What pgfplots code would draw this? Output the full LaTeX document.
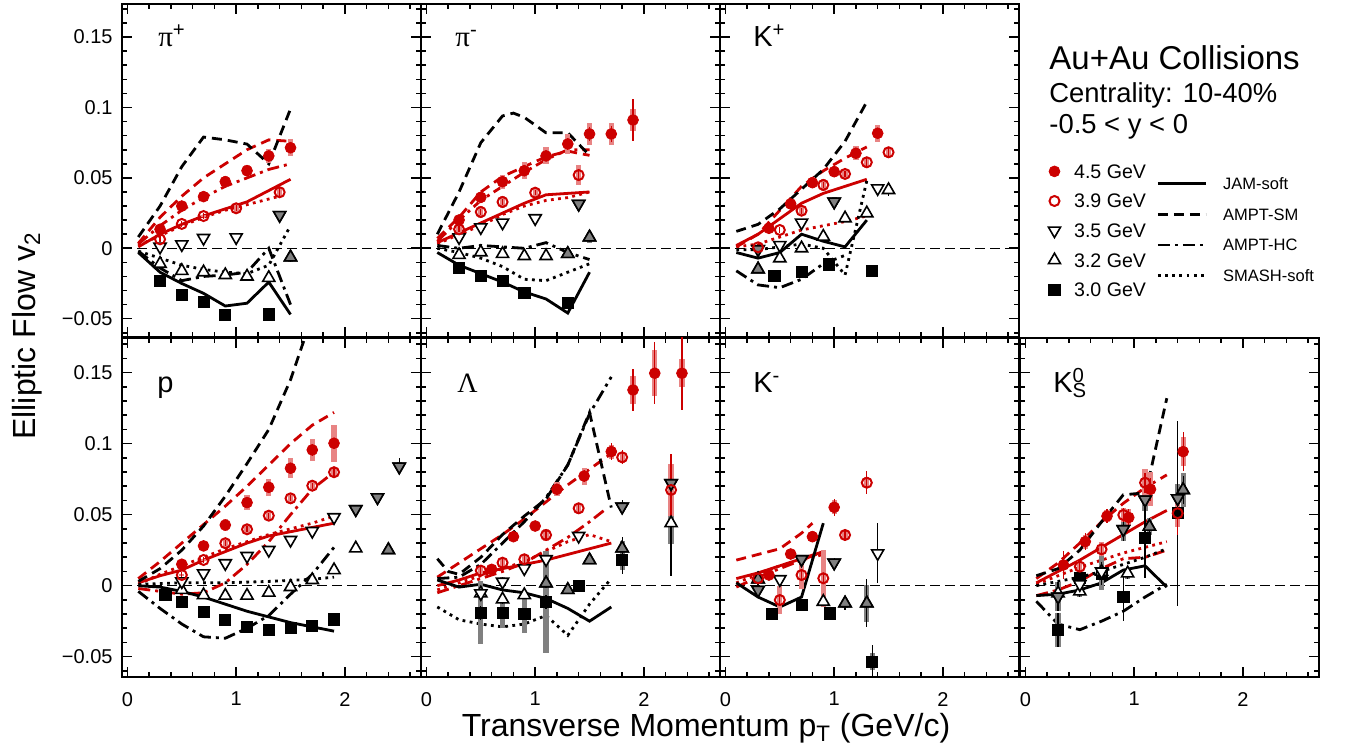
\documentclass[border=0pt]{standalone}
\usepackage{pgfplots}
\usepackage{pgfplotstable}
\pgfplotsset{compat=1.18}
\usepackage{fontspec}
\setmainfont{Liberation Sans}
\newfontfamily\grk{Liberation Serif}

\definecolor{rd}{RGB}{204,0,0}
\definecolor{rdsys}{RGB}{232,132,132}
\definecolor{gysys}{RGB}{128,128,128}

% marker styles (tikz keys, so legends can use them too)
\tikzset{
  m45/.style={color=rd, mark=*, mark size=2.7pt, mark options={fill=rd, draw=rd, line width=0.4pt, solid}},
  m39/.style={color=rd, mark=o, mark size=2.5pt, mark options={draw=rd, line width=1pt, solid}},
  m35/.style={color=black, mark=triangle*, mark size=3.5pt, mark options={rotate=180, draw=black, fill=white, line width=0.8pt, solid}},
  m35g/.style={color=black, mark=triangle*, mark size=3.5pt, mark options={rotate=180, draw=black, fill=gysys, line width=0.8pt, solid}},
  m32/.style={color=black, mark=triangle*, mark size=3.5pt, mark options={draw=black, fill=white, line width=0.8pt, solid}},
  m32g/.style={color=black, mark=triangle*, mark size=3.5pt, mark options={draw=black, fill=gysys, line width=0.8pt, solid}},
  m30/.style={color=black, mark=square*, mark size=2.8pt, mark options={fill=black, draw=black, solid}},
  mjam/.style={line width=1.4pt, solid},
  msm/.style={line width=1.4pt, dash pattern=on 5pt off 3pt},
  mhc/.style={line width=1.4pt, dash pattern=on 6pt off 2.5pt on 1.5pt off 2.5pt},
  msma/.style={line width=1.4pt, dash pattern=on 1.4pt off 2.2pt},
  zline/.style={black, line width=0.6pt, dash pattern=on 5pt off 2.5pt},
}

\pgfplotsset{
  panel/.style={scale only axis, width=149.5pt, xmin=-0.05, xmax=2.7, anchor=south west,
    axis line style={line width=1pt}, tick align=inside, xtick pos=both, ytick pos=both,
    xtick={0,1,2}, ytick={-0.05,0,0.05,0.1,0.15},
    minor xtick={0.2,0.4,0.6,0.8,1.2,1.4,1.6,1.8,2.2,2.4,2.6},
    minor ytick={-0.06,-0.04,-0.03,-0.02,-0.01,0.01,0.02,0.03,0.04,0.06,0.07,0.08,0.09,0.11,0.12,0.13,0.14,0.16,0.17},
    major tick length=5pt, minor tick length=2.5pt,
    tick style={line width=0.8pt, black},
    xticklabels={}, yticklabels={},
    ticklabel style={font=\fontsize{10}{10}\selectfont},
    xticklabel style={yshift=-4pt}, yticklabel style={xshift=-1.2pt}},
  toprow/.style={height=166.5pt, ymin=-0.063, ymax=0.1735},
  botrow/.style={height=169.5pt, ymin=-0.0643, ymax=0.1744},
  ylab/.style={yticklabels={−0.05,0,0.05,0.1,0.15}},
  xlab/.style={xticklabels={0,1,2}},
}

% one data series: systematic boxes, then points with statistical bars
\newcommand{\ser}[3]{%
  \addplot[draw=none, mark=none, forget plot, error bars/.cd, y dir=both, y explicit, error mark=none,
    error bar style={draw=#3, line width=2.6pt, solid}] table[x=x, y=y, y error=sy] {#1};
  \addplot[#2, only marks, forget plot, error bars/.cd, y dir=both, y explicit, error mark=none,
    error bar style={line width=0.6pt, solid}] table[x=x, y=y, y error=st] {#1};
}
% points flagged g=1 are drawn again with a grey fill
\newcommand{\gry}[2]{%
  \addplot[#2, only marks, forget plot, unbounded coords=discard]
    table[x expr={\thisrow{g}>0.5 ? \thisrow{x} : nan}, y=y] {#1};
}
\newcommand{\lab}[3]{\node[anchor=base west, inner sep=0pt, font=\fontsize{14.5}{15}\selectfont] at (rel axis cs:#1,#2) {#3};}

% ---------------- pi+ ----------------
\pgfplotstableread{
x y st sy g
0.3 0.0135 0.002 0.002 0
0.5 0.0300 0.002 0.002 0
0.7 0.0367 0.002 0.003 0
0.9 0.0473 0.002 0.004 0
1.1 0.0551 0.002 0.004 0
1.3 0.0656 0.003 0.005 0
1.5 0.0714 0.004 0.006 0
}\PiPa
\pgfplotstableread{
x y st sy g
0.3 0.0064 0.002 0.000 0
0.5 0.0173 0.002 0.000 0
0.7 0.0229 0.002 0.001 0
1.0 0.0284 0.002 0.003 0
1.4 0.0398 0.003 0.003 0
}\PiPb
\pgfplotstableread{
x y st sy g
0.3 0.0011 0.002 0.000 0
0.5 0.0028 0.002 0.000 0
0.7 0.0073 0.002 0.000 0
1.0 0.0078 0.002 0.000 0
1.4 0.0236 0.003 0.003 1
}\PiPc
\pgfplotstableread{
x y st sy g
0.3 -0.0110 0.002 0.000 0
0.5 -0.0160 0.002 0.000 0
0.7 -0.0170 0.002 0.000 0
0.9 -0.0190 0.002 0.000 0
1.1 -0.0200 0.002 0.000 0
1.3 -0.0210 0.002 0.000 0
1.5 -0.0064 0.003 0.003 1
}\PiPd
\pgfplotstableread{
x y st sy g
0.3 -0.0230 0.002 0.002 0
0.5 -0.0332 0.002 0.002 0
0.7 -0.0379 0.002 0.002 0
0.9 -0.0474 0.002 0.002 0
1.3 -0.0469 0.002 0.002 0
}\PiPe

% ---------------- pi- ----------------
\pgfplotstableread{
x y st sy g
0.3 0.0201 0.002 0.003 0
0.5 0.0362 0.002 0.004 0
0.7 0.0473 0.002 0.005 0
0.9 0.0551 0.002 0.006 0
1.1 0.0656 0.003 0.006 0
1.3 0.0741 0.004 0.007 0
1.5 0.0812 0.005 0.008 0
1.7 0.0812 0.006 0.008 0
1.9 0.0911 0.015 0.008 0
}\PiMa
\pgfplotstableread{
x y st sy g
0.3 0.0135 0.002 0.003 0
0.5 0.0258 0.002 0.004 0
0.7 0.0329 0.002 0.004 0
1.0 0.0395 0.002 0.003 0
1.4 0.0520 0.003 0.007 0
}\PiMb
\pgfplotstableread{
x y st sy g
0.3 0.0078 0.002 0.000 0
0.5 0.0149 0.002 0.000 0
0.7 0.0182 0.002 0.000 0
1.0 0.0213 0.002 0.000 0
1.4 0.0315 0.003 0.003 1
}\PiMc
\pgfplotstableread{
x y st sy g
0.3 -0.0047 0.002 0.000 0
0.5 -0.0028 0.002 0.000 0
0.7 -0.0040 0.002 0.000 0
0.9 -0.0055 0.002 0.000 0
1.1 -0.0055 0.002 0.000 0
1.3 -0.0040 0.002 0.003 1
1.5 0.0078 0.003 0.004 1
}\PiMd
\pgfplotstableread{
x y st sy g
0.3 -0.0138 0.002 0.002 0
0.5 -0.0197 0.002 0.002 0
0.7 -0.0232 0.002 0.002 0
0.9 -0.0315 0.002 0.002 0
1.3 -0.0386 0.002 0.002 0
}\PiMe

% ---------------- K+ ----------------
\pgfplotstableread{
x y st sy g
0.4 0.0142 0.002 0.002 0
0.6 0.0315 0.002 0.003 0
0.8 0.0466 0.002 0.004 0
1.0 0.0544 0.002 0.004 0
1.2 0.0675 0.003 0.005 0
1.4 0.0817 0.004 0.006 0
}\KPa
\pgfplotstableread{
x y st sy g
0.3 0.0007 0.002 0.000 0
0.5 0.0130 0.002 0.000 0
0.7 0.0267 0.002 0.003 0
0.9 0.0450 0.002 0.004 0
1.1 0.0528 0.002 0.003 0
1.3 0.0611 0.003 0.004 0
1.5 0.0682 0.004 0.004 0
}\KPb
\pgfplotstableread{
x y st sy g
0.3 -0.0007 0.002 0.002 1
0.5 0.0023 0.002 0.000 0
0.7 0.0182 0.002 0.002 0
1.0 0.0331 0.002 0.003 1
1.4 0.0426 0.003 0.000 0
}\KPc
\pgfplotstableread{
x y st sy g
0.3 -0.0149 0.002 0.002 1
0.5 -0.0071 0.002 0.000 0
0.7 0.0000 0.002 0.000 0
0.9 0.0083 0.002 0.000 0
1.1 0.0213 0.002 0.000 0
1.3 0.0249 0.002 0.000 0
1.5 0.0414 0.004 0.000 0
}\KPd
\pgfplotstableread{
x y st sy g
0.45 -0.0197 0.002 0.002 0
0.7 -0.0166 0.002 0.002 0
0.95 -0.0114 0.002 0.002 0
1.35 -0.0159 0.003 0.002 0
}\KPe

% ---------------- p ----------------
\pgfplotstableread{
x y st sy g
0.5 0.0151 0.002 0.002 0
0.7 0.0280 0.002 0.003 0
0.9 0.0427 0.002 0.004 0
1.1 0.0585 0.003 0.005 0
1.3 0.0693 0.003 0.006 0
1.5 0.0827 0.003 0.007 0
1.7 0.0956 0.004 0.008 0
1.9 0.1003 0.004 0.013 0
}\Pra
\pgfplotstableread{
x y st sy g
0.5 0.0075 0.002 0.001 0
0.7 0.0181 0.002 0.001 0
0.9 0.0299 0.002 0.003 0
1.1 0.0397 0.002 0.003 0
1.3 0.0493 0.002 0.003 0
1.5 0.0615 0.002 0.004 0
1.7 0.0704 0.002 0.003 0
1.9 0.0799 0.003 0.003 0
}\Prb
\pgfplotstableread{
x y st sy g
0.5 0.0030 0.002 0.000 0
0.7 0.0087 0.002 0.000 0
0.9 0.0158 0.002 0.003 0
1.1 0.0209 0.002 0.000 0
1.3 0.0251 0.002 0.003 0
1.5 0.0322 0.002 0.003 0
1.7 0.0385 0.002 0.000 0
1.9 0.0482 0.002 0.000 0
2.1 0.0538 0.002 0.002 1
2.3 0.0622 0.003 0.002 1
2.5 0.0838 0.006 0.003 1
}\Prc
\pgfplotstableread{
x y st sy g
0.5 -0.0030 0.002 0.000 0
0.7 -0.0066 0.002 0.000 0
0.9 -0.0070 0.002 0.000 0
1.1 -0.0070 0.002 0.000 0
1.3 -0.0049 0.002 0.000 0
1.5 -0.0009 0.002 0.000 0
1.7 0.0040 0.002 0.000 0
1.9 0.0110 0.002 0.000 0
2.1 0.0263 0.002 0.000 0
2.4 0.0251 0.002 0.002 1
}\Prd
\pgfplotstableread{
x y st sy g
0.35 -0.0066 0.002 0.002 0
0.5 -0.0113 0.002 0.002 0
0.7 -0.0183 0.002 0.002 0
0.9 -0.0242 0.002 0.002 0
1.1 -0.0293 0.002 0.002 0
1.3 -0.0312 0.002 0.002 0
1.5 -0.0300 0.002 0.002 0
1.7 -0.0284 0.002 0.002 0
1.9 -0.0237 0.002 0.002 0
}\Pre

% ---------------- Lambda ----------------
\pgfplotstableread{
x y st sy g
0.6 0.0115 0.004 0.003 0
0.8 0.0345 0.003 0.003 0
1.0 0.0420 0.003 0.003 0
1.2 0.0679 0.004 0.005 0
1.45 0.0772 0.004 0.006 0
1.7 0.0944 0.006 0.005 0
1.9 0.1378 0.015 0.010 0
2.1 0.1496 0.022 0.016 0
2.35 0.1496 0.026 0.010 0
}\Laa
\pgfplotstableread{
x y st sy g
0.5 0.0106 0.004 0.003 0
0.7 0.0162 0.003 0.003 0
0.9 0.0186 0.003 0.003 0
1.1 0.0357 0.003 0.004 0
1.4 0.0545 0.003 0.004 0
1.8 0.0904 0.005 0.004 0
2.25 0.0674 0.025 0.018 0
}\Lab
\pgfplotstableread{
x y st sy g
0.5 -0.0054 0.003 0.003 0
0.7 0.0028 0.003 0.003 0
0.9 0.0122 0.003 0.003 0
1.1 0.0186 0.003 0.003 0
1.4 0.0350 0.003 0.000 0
1.8 0.0556 0.005 0.003 1
2.25 0.0721 0.008 0.004 1
}\Lac
\pgfplotstableread{
x y st sy g
0.5 -0.0054 0.003 0.003 0
0.7 -0.0096 0.003 0.003 0
0.9 -0.0066 0.003 0.003 0
1.1 0.0017 0.003 0.003 1
1.3 -0.0030 0.003 0.003 1
1.5 0.0180 0.003 0.003 1
1.8 0.0263 0.008 0.005 1
2.25 0.0440 0.037 0.015 0
}\Lad
\pgfplotstableread{
x y st sy g
0.5 -0.0190 0.005 0.022 0
0.7 -0.0190 0.004 0.011 0
0.9 -0.0200 0.004 0.013 0
1.1 -0.0113 0.005 0.036 0
1.4 -0.0002 0.003 0.003 0
1.8 0.0180 0.010 0.007 0
}\Lae

% ---------------- K- ----------------
\pgfplotstableread{
x y st sy g
0.4 0.0075 0.002 0.003 0
0.6 0.0223 0.003 0.003 0
0.8 0.0345 0.003 0.004 0
1.0 0.0552 0.006 0.005 0
}\KMa
\pgfplotstableread{
x y st sy g
0.3 0.0052 0.002 0.002 0
0.5 -0.0101 0.003 0.010 0
0.7 0.0075 0.003 0.010 0
0.9 0.0052 0.003 0.020 0
1.1 0.0357 0.004 0.003 0
1.3 0.0725 0.008 0.004 0
}\KMb
\pgfplotstableread{
x y st sy g
0.3 -0.0030 0.006 0.002 1
0.5 0.0045 0.003 0.000 0
0.7 0.0186 0.003 0.002 1
1.0 0.0162 0.003 0.002 1
1.4 0.0228 0.021 0.000 0
}\KMc
\pgfplotstableread{
x y st sy g
0.3 0.0045 0.002 0.002 1
0.9 -0.0113 0.003 0.003 0
1.1 -0.0124 0.005 0.003 1
1.3 -0.0124 0.017 0.013 1
}\KMd
\pgfplotstableread{
x y st sy g
0.43 -0.0200 0.002 0.002 0
0.7 -0.0136 0.004 0.003 0
0.96 -0.0195 0.004 0.004 0
1.35 -0.0535 0.012 0.006 0
}\KMe

% ---------------- K0S ----------------
\pgfplotstableread{
x y st sy g
0.35 0.0146 0.010 0.003 0
0.55 0.0310 0.006 0.005 0
0.75 0.0490 0.005 0.004 0
0.95 0.0480 0.006 0.006 0
1.15 0.0679 0.008 0.012 0
1.45 0.0944 0.014 0.010 0
}\KSa
\pgfplotstableread{
x y st sy g
0.5 0.0134 0.005 0.004 0
0.7 0.0256 0.004 0.005 0
0.9 0.0498 0.005 0.005 0
1.1 0.0725 0.007 0.010 0
1.4 0.0510 0.015 0.010 0
}\KSb
\pgfplotstableread{
x y st sy g
0.3 -0.0077 0.010 0.010 1
0.5 0.0010 0.005 0.005 0
0.7 0.0100 0.005 0.005 0
0.9 0.0397 0.008 0.008 1
1.1 0.0606 0.010 0.008 1
1.4 0.0615 0.010 0.010 1
}\KSc
\pgfplotstableread{
x y st sy g
0.3 -0.0054 0.004 0.004 0
0.5 -0.0040 0.004 0.004 0
0.7 0.0099 0.004 0.004 0
0.94 0.0087 0.004 0.004 0
1.14 0.0416 0.006 0.006 1
1.45 0.0674 0.010 0.012 1
}\KSd
\pgfplotstableread{
x y st sy g
0.3 -0.0312 0.012 0.012 0
0.5 0.0052 0.008 0.010 0
0.7 0.0087 0.008 0.012 0
0.9 -0.0077 0.017 0.004 0
1.1 0.0334 0.028 0.004 0
1.4 0.0510 0.065 0.010 0
}\KSe

\begin{document}
\begin{tikzpicture}
\path[use as bounding box] (0,0) rectangle (673.5pt,377.5pt);

% ===== pi+ =====
\begin{axis}[panel, toprow, ylab, at={(61pt,209pt)}]
\addplot[zline, forget plot] coordinates {(-0.05,0) (2.7,0)};
\addplot[mjam, rd] coordinates {(0.1,0.001) (0.3,0.010) (0.5,0.017) (0.7,0.023) (0.9,0.028) (1.1,0.033) (1.3,0.041) (1.5,0.049)};
\addplot[msm, rd] coordinates {(0.1,0.0035) (0.3,0.022) (0.5,0.037) (0.7,0.050) (0.9,0.060) (1.1,0.070) (1.3,0.077) (1.5,0.076)};
\addplot[mhc, rd] coordinates {(0.1,0.003) (0.3,0.016) (0.5,0.027) (0.7,0.036) (0.9,0.044) (1.1,0.050) (1.3,0.056) (1.5,0.060)};
\addplot[msma, rd] coordinates {(0.1,0.002) (0.3,0.009) (0.5,0.016) (0.7,0.022) (0.9,0.027) (1.1,0.031) (1.3,0.035) (1.4,0.037)};
\addplot[mjam, black] coordinates {(0.1,-0.003) (0.3,-0.017) (0.5,-0.025) (0.7,-0.032) (0.9,-0.041) (1.1,-0.039) (1.3,-0.024) (1.5,-0.047)};
\addplot[msm, black] coordinates {(0.1,0.008) (0.3,0.030) (0.5,0.058) (0.7,0.079) (0.9,0.077) (1.1,0.074) (1.3,0.060) (1.5,0.099)};
\addplot[mhc, black] coordinates {(0.1,-0.002) (0.3,-0.014) (0.5,-0.023) (0.7,-0.020) (0.9,-0.019) (1.1,-0.017) (1.3,0.000) (1.5,-0.040)};
\addplot[msma, black] coordinates {(0.1,-0.002) (0.3,-0.007) (0.5,-0.012) (0.7,-0.015) (0.9,-0.017) (1.1,-0.018) (1.3,-0.012) (1.5,0.016)};
\ser{\PiPe}{m30}{gysys}
\ser{\PiPd}{m32}{gysys} \gry{\PiPd}{m32g}
\ser{\PiPc}{m35}{gysys} \gry{\PiPc}{m35g}
\ser{\PiPb}{m39}{rdsys}
\ser{\PiPa}{m45}{rdsys}
\lab{0.12}{0.871}{{\grk π}\textsuperscript{+}}
\end{axis}

% ===== pi- =====
\begin{axis}[panel, toprow, at={(210.5pt,209pt)}]
\addplot[zline, forget plot] coordinates {(-0.05,0) (2.7,0)};
\addplot[mjam, rd] coordinates {(0.1,0.004) (0.3,0.011) (0.5,0.018) (0.7,0.025) (0.9,0.032) (1.1,0.038) (1.3,0.039) (1.5,0.040)};
\addplot[msm, rd] coordinates {(0.1,0.007) (0.3,0.022) (0.5,0.040) (0.7,0.051) (0.9,0.058) (1.1,0.065) (1.3,0.069) (1.5,0.066)};
\addplot[mhc, rd] coordinates {(0.1,0.005) (0.3,0.020) (0.5,0.034) (0.7,0.044) (0.9,0.054) (1.1,0.063) (1.3,0.070) (1.5,0.070)};
\addplot[msma, rd] coordinates {(0.1,0.003) (0.3,0.010) (0.5,0.016) (0.7,0.024) (0.9,0.030) (1.1,0.034) (1.3,0.036) (1.5,0.040)};
\addplot[mjam, black] coordinates {(0.1,-0.003) (0.3,-0.012) (0.5,-0.018) (0.7,-0.024) (0.9,-0.031) (1.1,-0.036) (1.3,-0.046) (1.5,-0.017)};
\addplot[msm, black] coordinates {(0.1,0.010) (0.3,0.040) (0.5,0.075) (0.7,0.094) (0.8,0.096) (0.9,0.093) (1.1,0.082) (1.3,0.082) (1.5,0.066)};
\addplot[mhc, black] coordinates {(0.1,0.002) (0.3,0.000) (0.5,0.002) (0.7,0.001) (0.9,0.000) (1.1,0.004) (1.3,-0.003) (1.5,-0.008)};
\addplot[msma, black] coordinates {(0.1,0.000) (0.3,-0.003) (0.5,-0.007) (0.7,-0.013) (0.9,-0.022) (1.1,-0.023) (1.3,-0.017) (1.5,-0.011)};
\ser{\PiMe}{m30}{gysys}
\ser{\PiMd}{m32}{gysys} \gry{\PiMd}{m32g}
\ser{\PiMc}{m35}{gysys} \gry{\PiMc}{m35g}
\ser{\PiMb}{m39}{rdsys}
\ser{\PiMa}{m45}{rdsys}
\lab{0.114}{0.871}{{\grk π}\textsuperscript{-}}
\end{axis}

% ===== K+ =====
\begin{axis}[panel, toprow, at={(360pt,209pt)}]
\addplot[zline, forget plot] coordinates {(-0.05,0) (2.7,0)};
\addplot[mjam, rd] coordinates {(0.1,0.002) (0.3,0.010) (0.5,0.021) (0.7,0.032) (0.9,0.039) (1.1,0.044) (1.3,0.049)};
\addplot[msm, rd] coordinates {(0.1,0.001) (0.3,0.010) (0.5,0.027) (0.7,0.044) (0.9,0.055) (1.1,0.064) (1.3,0.072)};
\addplot[msma, rd] coordinates {(0.1,0.001) (0.3,0.003) (0.5,0.008) (0.7,0.013) (0.9,0.016) (1.1,0.019) (1.3,0.023)};
\addplot[mjam, black] coordinates {(0.1,-0.003) (0.3,-0.007) (0.5,-0.003) (0.7,0.010) (0.9,0.005) (1.1,0.001) (1.3,0.020)};
\addplot[msm, black] coordinates {(0.1,0.012) (0.3,0.017) (0.5,0.028) (0.7,0.042) (0.9,0.056) (1.1,0.076) (1.3,0.104)};
\addplot[mhc, black] coordinates {(0.1,-0.016) (0.3,-0.026) (0.5,-0.028) (0.7,-0.022) (0.9,-0.011) (1.1,-0.005)};
\addplot[msma, black] coordinates {(0.1,-0.001) (0.3,-0.001) (0.5,0.001) (0.7,0.003) (0.9,0.000) (1.1,-0.019) (1.3,0.048)};
\ser{\KPe}{m30}{gysys}
\ser{\KPd}{m32}{gysys} \gry{\KPd}{m32g}
\ser{\KPc}{m35}{gysys} \gry{\KPc}{m35g}
\ser{\KPb}{m39}{rdsys}
\ser{\KPa}{m45}{rdsys}
\lab{0.11}{0.871}{K\textsuperscript{+}}
\end{axis}

% ===== p =====
\begin{axis}[panel, botrow, ylab, xlab, at={(61pt,39pt)}]
\addplot[zline, forget plot] coordinates {(-0.05,0) (2.7,0)};
\addplot[mjam, rd] coordinates {(0.1,0.002) (0.3,0.007) (0.5,0.011) (0.7,0.018) (0.9,0.024) (1.1,0.030) (1.3,0.035) (1.5,0.038) (1.7,0.041) (1.9,0.044)};
\addplot[msm, rd] coordinates {(0.1,0.005) (0.3,0.017) (0.5,0.030) (0.7,0.043) (0.9,0.056) (1.1,0.070) (1.3,0.085) (1.5,0.100) (1.7,0.113) (1.9,0.122)};
\addplot[mhc, rd] coordinates {(0.1,-0.002) (0.3,-0.004) (0.5,-0.006) (0.7,-0.005) (0.9,0.002) (1.1,0.015) (1.3,0.031) (1.5,0.050) (1.7,0.068) (1.9,0.080)};
\addplot[msma, rd] coordinates {(0.1,0.001) (0.3,0.008) (0.5,0.014) (0.7,0.020) (0.9,0.026) (1.1,0.031) (1.3,0.036) (1.5,0.040) (1.7,0.044) (1.9,0.049)};
\addplot[mjam, black] coordinates {(0.1,0.000) (0.3,-0.001) (0.5,-0.004) (0.7,-0.008) (0.9,-0.013) (1.1,-0.018) (1.3,-0.022) (1.5,-0.026) (1.7,-0.029) (1.9,-0.032)};
\addplot[msm, black] coordinates {(0.1,0.003) (0.3,0.012) (0.5,0.025) (0.7,0.042) (0.9,0.063) (1.1,0.086) (1.3,0.110) (1.5,0.145) (1.7,0.190)};
\addplot[mhc, black] coordinates {(0.1,-0.004) (0.3,-0.016) (0.5,-0.027) (0.7,-0.036) (0.9,-0.037) (1.1,-0.030) (1.3,-0.021) (1.5,-0.006) (1.7,0.008) (1.9,0.027)};
\addplot[msma, black] coordinates {(0.1,0.001) (0.5,0.002) (0.9,0.002) (1.3,0.003) (1.7,0.0045) (1.9,0.006)};
\ser{\Pre}{m30}{gysys}
\ser{\Prd}{m32}{gysys} \gry{\Prd}{m32g}
\ser{\Prc}{m35}{gysys} \gry{\Prc}{m35g}
\ser{\Prb}{m39}{rdsys}
\ser{\Pra}{m45}{rdsys}
\lab{0.117}{0.84}{p}
\end{axis}

% ===== Lambda =====
\begin{axis}[panel, botrow, xlab, at={(210.5pt,39pt)}]
\addplot[zline, forget plot] coordinates {(-0.05,0) (2.7,0)};
\addplot[mjam, rd] coordinates {(0.1,0.000) (0.3,0.004) (0.5,0.009) (0.7,0.012) (0.9,0.015) (1.1,0.018) (1.3,0.022) (1.5,0.026) (1.7,0.030)};
\addplot[msm, rd] coordinates {(0.1,0.006) (0.3,0.016) (0.5,0.026) (0.7,0.036) (0.9,0.047) (1.1,0.059) (1.3,0.071) (1.5,0.082) (1.7,0.093)};
\addplot[mhc, rd] coordinates {(0.1,-0.005) (0.3,0.000) (0.5,0.005) (0.7,0.010) (0.9,0.016) (1.1,0.025) (1.3,0.034) (1.5,0.045) (1.65,0.054)};
\addplot[msma, rd] coordinates {(0.1,-0.003) (0.3,0.002) (0.5,0.007) (0.7,0.012) (0.9,0.017) (1.1,0.024) (1.3,0.031) (1.5,0.036) (1.7,0.031)};
\addplot[mjam, black] coordinates {(0.1,0.004) (0.3,-0.001) (0.5,0.001) (0.7,-0.003) (0.9,-0.005) (1.1,-0.009) (1.3,-0.016) (1.5,-0.025) (1.7,-0.015)};
\addplot[msm, black] coordinates {(0.1,0.019) (0.2,0.010) (0.3,0.008) (0.5,0.020) (0.7,0.036) (0.9,0.049) (1.1,0.061) (1.3,0.085) (1.5,0.122) (1.7,0.055)};
\addplot[mhc, black] coordinates {(0.1,0.005) (0.3,0.006) (0.5,0.015) (0.7,0.030) (0.9,0.045) (1.1,0.062) (1.3,0.085) (1.5,0.121) (1.7,0.147)};
\addplot[msma, black] coordinates {(0.1,-0.015) (0.3,-0.024) (0.5,-0.027) (0.7,-0.029) (0.9,-0.027) (1.1,-0.021) (1.3,-0.035) (1.5,-0.013) (1.7,0.005)};
\ser{\Lae}{m30}{gysys}
\ser{\Lad}{m32}{gysys} \gry{\Lad}{m32g}
\ser{\Lac}{m35}{gysys} \gry{\Lac}{m35g}
\ser{\Lab}{m39}{rdsys}
\ser{\Laa}{m45}{rdsys}
\node[anchor=base west, inner sep=0pt, font=\grk\fontsize{14}{14}\selectfont] at (rel axis cs:0.12,0.838) {Λ};
\end{axis}

% ===== K- =====
\begin{axis}[panel, botrow, xlab, at={(360pt,39pt)}]
\addplot[zline, forget plot] coordinates {(-0.05,0) (2.7,0)};
\addplot[mjam, rd] coordinates {(0.1,0.005) (0.3,0.009) (0.5,0.014) (0.7,0.019) (0.9,0.024)};
\addplot[msm, rd] coordinates {(0.1,0.018) (0.3,0.022) (0.5,0.026) (0.7,0.037) (0.8,0.044)};
\addplot[mhc, rd] coordinates {(0.1,-0.001) (0.3,0.006) (0.5,0.012) (0.7,0.018) (0.9,0.024)};
\addplot[msma, rd] coordinates {(0.1,0.002) (0.3,0.008) (0.5,0.014) (0.7,0.018) (0.9,0.022)};
\addplot[mjam, black] coordinates {(0.1,0.002) (0.3,-0.008) (0.5,-0.015) (0.7,-0.008) (0.9,0.044)};
\ser{\KMe}{m30}{gysys}
\ser{\KMd}{m32}{gysys} \gry{\KMd}{m32g}
\ser{\KMc}{m35}{gysys} \gry{\KMc}{m35g}
\ser{\KMb}{m39}{rdsys}
\ser{\KMa}{m45}{rdsys}
\lab{0.11}{0.838}{K\textsuperscript{-}}
\end{axis}

% ===== K0S =====
\begin{axis}[panel, botrow, xlab, at={(510pt,39pt)}]
\addplot[zline, forget plot] coordinates {(-0.05,0) (2.7,0)};
\addplot[mjam, rd] coordinates {(0.1,0.002) (0.3,0.010) (0.5,0.018) (0.7,0.027) (0.9,0.036) (1.1,0.045) (1.3,0.053)};
\addplot[msm, rd] coordinates {(0.1,0.005) (0.3,0.016) (0.5,0.030) (0.7,0.045) (0.9,0.058) (1.1,0.069) (1.3,0.078)};
\addplot[mhc, rd] coordinates {(0.1,-0.007) (0.3,-0.003) (0.5,0.003) (0.7,0.012) (0.9,0.019) (1.1,0.020) (1.3,0.025)};
\addplot[msma, rd] coordinates {(0.1,0.001) (0.3,0.007) (0.5,0.013) (0.7,0.018) (0.9,0.023) (1.1,0.027) (1.3,0.031)};
\addplot[mjam, black] coordinates {(0.1,-0.007) (0.3,-0.006) (0.5,-0.003) (0.7,0.002) (0.9,0.011) (1.1,0.014) (1.3,-0.001)};
\addplot[msm, black] coordinates {(0.1,0.007) (0.3,0.012) (0.5,0.025) (0.7,0.045) (0.9,0.064) (1.05,0.065) (1.1,0.063) (1.3,0.132)};
\addplot[mhc, black] coordinates {(0.1,-0.011) (0.3,-0.027) (0.5,-0.031) (0.7,-0.025) (0.9,-0.018) (1.1,-0.008) (1.3,0.001)};
\addplot[msma, black] coordinates {(0.1,0.000) (0.3,0.003) (0.5,0.006) (0.7,0.010) (0.9,0.015) (1.1,0.020) (1.3,0.026)};
\ser{\KSe}{m30}{gysys}
\ser{\KSd}{m32}{gysys} \gry{\KSd}{m32g}
\ser{\KSc}{m35}{gysys} \gry{\KSc}{m35g}
\ser{\KSb}{m39}{rdsys}
\ser{\KSa}{m45}{rdsys}
\lab{0.11}{0.838}{K\rlap{\textsuperscript{0}}\textsubscript{S}}
\end{axis}

% ===== legends =====
\begin{axis}[at={(524pt,296.5pt)}, anchor=north west, hide axis, scale only axis, width=1pt, height=1pt,
  xmin=0, xmax=1, ymin=0, ymax=1,
  legend style={at={(0,1)}, anchor=north west, draw=none, fill=none, inner sep=0pt, row sep=5.8pt,
    font=\fontsize{9.8}{10}\selectfont, nodes={inner sep=1pt, text height=7pt, text depth=0pt},
    /tikz/every odd column/.append style={column sep=5.8pt}},
  legend cell align=left,
  legend image code/.code={\draw[#1] plot coordinates {(0pt,0pt)};}]
\addlegendimage{m45, only marks}\addlegendentry{4.5 GeV}
\addlegendimage{m39, only marks}\addlegendentry{3.9 GeV}
\addlegendimage{m35, only marks}\addlegendentry{3.5 GeV}
\addlegendimage{m32, only marks}\addlegendentry{3.2 GeV}
\addlegendimage{m30, only marks}\addlegendentry{3.0 GeV}
\end{axis}
\begin{axis}[at={(578pt,290pt)}, anchor=north west, hide axis, scale only axis, width=1pt, height=1pt,
  xmin=0, xmax=1, ymin=0, ymax=1,
  legend style={at={(0,1)}, anchor=north west, draw=none, fill=none, inner sep=0pt, row sep=7.4pt,
    font=\fontsize{8.25}{9}\selectfont, nodes={inner sep=1pt, text height=6pt, text depth=0pt},
    /tikz/every odd column/.append style={column sep=7pt}},
  legend cell align=left,
  legend image code/.code={\draw[#1] (0pt,0pt) -- (24pt,0pt);}]
\addlegendimage{mjam, black}\addlegendentry{JAM-soft}
\addlegendimage{msm, black}\addlegendentry{AMPT-SM}
\addlegendimage{mhc, black}\addlegendentry{AMPT-HC}
\addlegendimage{msma, black}\addlegendentry{SMASH-soft}
\end{axis}

% ===== titles =====
\node[anchor=base west, inner sep=0pt, font=\fontsize{16.5}{17}\selectfont] at (524.5pt,342.5pt) {Au+Au Collisions};
\node[anchor=base west, inner sep=0pt, font=\fontsize{13.7}{14}\selectfont] at (524.5pt,326pt) {Centrality: 10-40\%};
\node[anchor=base west, inner sep=0pt, font=\fontsize{13.7}{14}\selectfont] at (524.5pt,310.8pt) {-0.5 < y < 0};
\node[rotate=90, anchor=base, inner sep=0pt, font=\fontsize{16}{16}\selectfont] at (17.5pt,209.5pt) {Elliptic Flow v\textsubscript{2}};
\node[anchor=base, inner sep=0pt, font=\fontsize{16}{16}\selectfont] at (353pt,9.2pt) {Transverse Momentum p\textsubscript{T} (GeV/c)};
\end{tikzpicture}
\end{document}
